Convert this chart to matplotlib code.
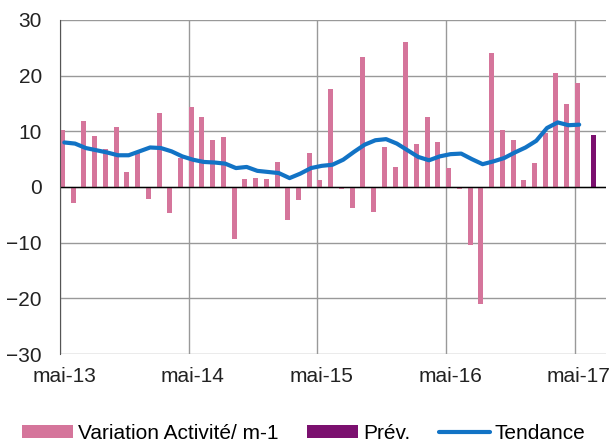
import numpy as np
import matplotlib.pyplot as plt
import matplotlib.transforms as mtransforms

plt.rcParams['font.family'] = ['Liberation Sans', 'DejaVu Sans']

# monthly change in activity, mai-13 .. mai-17
variation = [10.3, -2.9, 11.9, 9.2, 6.9, 10.8, 2.7, 6.1, -2.2, 13.3, -4.7, 5.2,
             14.3, 12.6, 8.4, 9.0, -9.3, 1.5, 1.7, 1.5, 4.5, -5.9, -2.4, 6.1,
             1.3, 17.6, -0.3, -3.8, 23.4, -4.5, 7.1, 3.6, 26.0, 7.7, 12.6, 8.0,
             3.4, -0.4, -10.5, -21.0, 24.1, 10.3, 8.4, 1.3, 4.3, 9.7, 20.5, 14.9,
             18.6]
tendance = [8.0, 7.8, 7.0, 6.6, 6.2, 5.7, 5.7, 6.4, 7.1, 7.0, 6.4, 5.5,
            4.9, 4.5, 4.4, 4.2, 3.4, 3.6, 2.9, 2.7, 2.5, 1.6, 2.4, 3.4,
            3.8, 4.0, 4.9, 6.3, 7.6, 8.4, 8.6, 7.8, 6.6, 5.4, 4.8, 5.5,
            5.9, 6.0, 5.0, 4.1, 4.6, 5.2, 6.2, 7.1, 8.3, 10.6, 11.6, 11.1,
            11.2]
prev_value = [9.3]   # juin-17
year_labels = ['mai-13', 'mai-14', 'mai-15', 'mai-16', 'mai-17']

pink = '#D5759B'
purple = '#7B106F'
blue = '#1273C5'

months = np.arange(len(variation))
prev_month = np.array([len(variation)])

fig = plt.figure(figsize=(6.14, 4.44), dpi=100)
ax = fig.add_axes([60/614, 90/444, 546/614, 334/444])

b1 = ax.bar(months, variation, width=0.47, align='edge', color=pink,
            label='Variation Activité/ m-1', zorder=2)
b2 = ax.bar(prev_month + 0.5, prev_value, width=0.47, align='edge', color=purple,
            label='Prév.', zorder=2)
l1, = ax.plot(months + 0.4, tendance, color=blue, lw=3.0, solid_capstyle='round',
              solid_joinstyle='round', label='Tendance', zorder=3)

ax.axhline(0, color='black', lw=1, zorder=2.5)

ax.set_ylim(-30, 30)
ax.set_yticks(range(-30, 31, 10))
ax.set_xlim(0, 50.9)
ax.set_xticks(months[::12])
ax.set_xticklabels(year_labels)

ax.grid(True, color='#999999', lw=1, zorder=0)
ax.set_axisbelow(True)
for s in ['top', 'right', 'bottom']:
    ax.spines[s].set_visible(False)
ax.spines['left'].set_color('#555555')
ax.spines['left'].set_zorder(3)

ax.tick_params(axis='both', length=0, labelsize=15, colors='#222222')
ax.tick_params(axis='y', pad=13)
ax.tick_params(axis='x', pad=9)

offset = mtransforms.ScaledTranslation(4/100, 0, fig.dpi_scale_trans)
for lbl in ax.get_xticklabels():
    lbl.set_transform(lbl.get_transform() + offset)

fig.legend(handles=[b1, b2, l1], loc='lower center', bbox_to_anchor=(0.495, -0.007),
           ncol=3, frameon=False, fontsize=15, handlelength=2.45, handleheight=0.55,
           handletextpad=0.25, columnspacing=1.35, borderpad=0.2, borderaxespad=0)

fig.savefig('out.png', dpi=100)
